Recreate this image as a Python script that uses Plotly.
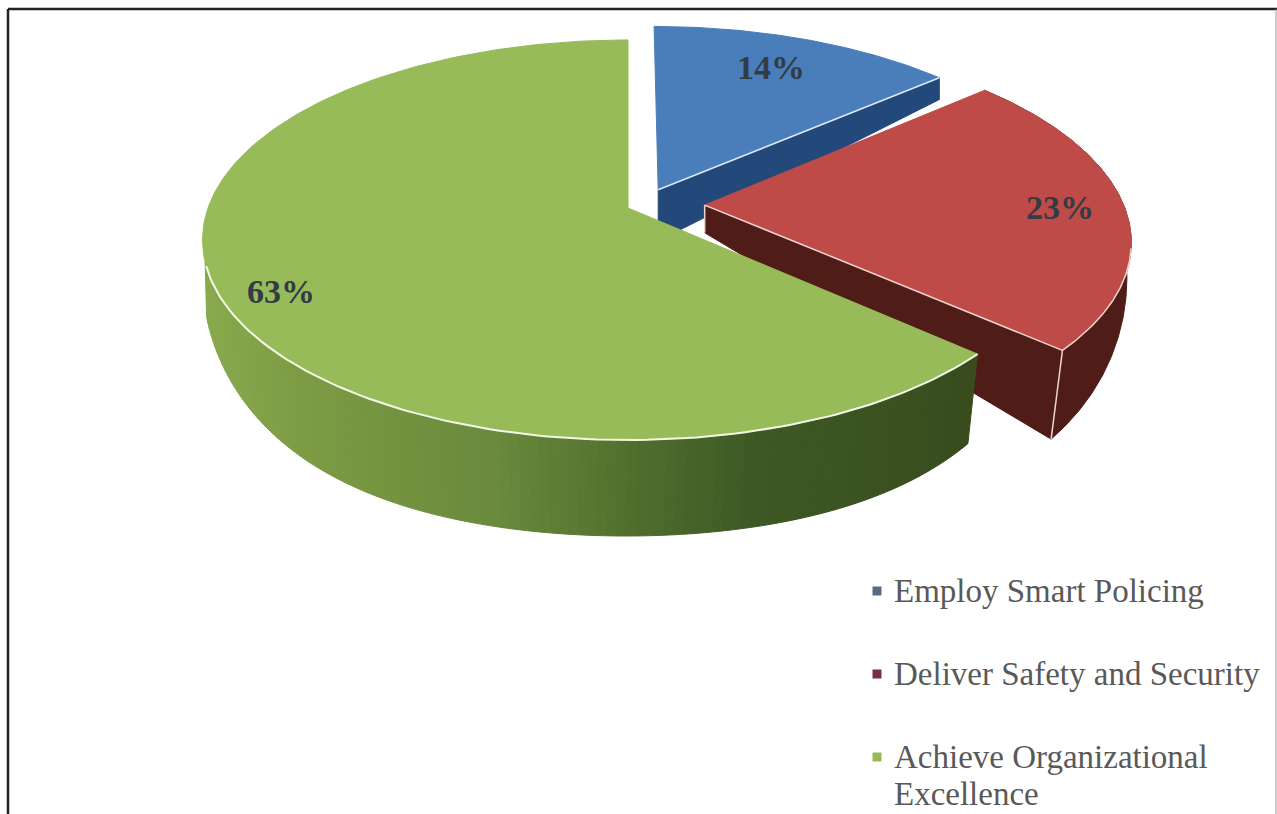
import numpy as np
import plotly.graph_objects as go

# ---- data ----
categories = ["Employ Smart Policing", "Deliver Safety and Security", "Achieve Organizational<br>Excellence"]
shares = [14, 23, 63]

# ---- style / geometry ----
top_colors = ["#4a7ebb", "#be4b48", "#98bb59"]
wall_colors = ["#23497a", "#4f1c17", "#3a4f1e"]
legend_marks = ["#5b6a80", "#7a2f45", "#98bb59"]
edge_colors = ["#dfe8f3", "#ecd5d0", "#f4f8e8"]
explode = [(0.073, -0.095), (0.183, -0.015), (0.0, 0.0)]
apex_drop = [30, 0, 0]
label_xy = [(771, 67), (1060, 207), (281, 291)]
legend_y = [591, 674, 757]
LINE_STEP = 37
CX, RX = 628, 420
VIEW_TURN = 1.2   # the drawing's slight rotation of the inner boundaries
FONT = "Liberation Serif"


def top(X, Y):
    return CX + RX * X / (1 - 0.16 * Y), 208 + 194.9 * Y / (1 - 0.16 * Y)


def bottom(X, Y):
    return CX - 2 + RX * X / (1 - 0.13 * Y), 237 + 283.7 * Y + 83.0 * Y ** 2 - 67.7 * Y ** 3


def rim(a0, a1, off, n):
    t = np.radians(np.linspace(a0, a1, n))
    return np.sin(t) + off[0], -np.cos(t) + off[1]


def side_color(x):
    xs = [205, 300, 500, 640, 760, 900, 975]
    rgb = np.array([[138, 170, 78], [126, 156, 68], [106, 138, 61], [79, 111, 46],
                    [62, 89, 37], [59, 82, 32], [56, 76, 30]])
    return "rgb(%d,%d,%d)" % tuple(int(np.interp(x, xs, rgb[:, i])) for i in range(3))


fig = go.Figure()


def poly(xs, ys, color, line=None):
    fig.add_trace(go.Scatter(x=list(xs), y=list(ys), mode="lines", fill="toself", fillcolor=color,
                             line=dict(color=line or color, width=1), hoverinfo="skip"))


def edge(xs, ys, color, w=1.5):
    fig.add_trace(go.Scatter(x=list(xs), y=list(ys), mode="lines",
                             line=dict(color=color, width=w), hoverinfo="skip"))


edges = np.concatenate([[0], np.cumsum(shares) * 3.6])
edges[1:-1] -= VIEW_TURN
for i in range(len(shares)):
    a0, a1 = edges[i], edges[i + 1]
    off = explode[i]
    ax, ay = off
    X, Y = rim(a0, a1, off, 200)
    tx, ty = top(X, Y)
    bx, by = bottom(X, Y)
    # outer side
    if i == 2:
        front = np.where(Y > 0.25)[0]
        fx, lx = front[0], front[-1]
        for j in range(fx, lx):
            k = j + 1
            poly([tx[j], tx[k], bx[k], bx[j], tx[j]], [ty[j], ty[k], by[k], by[j], ty[j]],
                 side_color(tx[j]))
    elif i == 1:
        poly(list(tx) + list(bx[::-1]) + [tx[0]], list(ty) + list(by[::-1]) + [ty[0]], wall_colors[i])
    # cut wall on the clockwise end of the slice
    tax, tay = top(ax, ay)
    bax, bay = bottom(ax, ay)
    bay += apex_drop[i]
    if i < 2:
        corner_x = tx[-1] if i == 0 else bx[-1]
        poly([tax, tx[-1], corner_x, tax, tax], [tay, ty[-1], by[-1], bay, tay], wall_colors[i])
    # top face
    poly([tax] + list(tx) + [tax], [tay] + list(ty) + [tay], top_colors[i])
    # highlights
    if i == 0:
        edge([tax, tx[-1]], [tay, ty[-1]], edge_colors[i])
    if i == 1:
        edge([tax, tx[-1]], [tay, ty[-1]], edge_colors[i])
        edge([tx[-1], bx[-1]], [ty[-1], by[-1]], edge_colors[i])
        edge([tax, tax], [tay, bay], edge_colors[i])
        s = Y > 0.2
        edge(tx[s], ty[s], edge_colors[i])
    if i == 2:
        s = Y > 0.28
        edge(tx[s], ty[s], edge_colors[i], 2)

# percentage labels
annotations = []
for v, (lx, ly) in zip(shares, label_xy):
    annotations.append(dict(x=lx, y=ly, text=f"<b>{v}%</b>", showarrow=False, xanchor="center", yanchor="middle",
                            font=dict(family=FONT, size=34, color="#333c45")))
# legend
fig.add_trace(go.Scatter(x=[877] * 3, y=legend_y, mode="markers", hoverinfo="skip",
                         marker=dict(symbol="square", size=9, color=legend_marks)))
for c, ly in zip(categories, legend_y):
    for n, part in enumerate(c.split("<br>")):
        annotations.append(dict(x=892, y=ly + n * LINE_STEP, text=part, showarrow=False, xanchor="left",
                                yanchor="middle", align="left", font=dict(family=FONT, size=33, color="#595959")))

border = [(8, 9, 1277, 9, "#222222", 2.5), (8, 9, 8, 814, "#222222", 2.5), (1276, 9, 1276, 814, "#999999", 1)]
shapes = [dict(type="line", xref="x", yref="y", x0=a, y0=b, x1=c, y1=d, line=dict(color=col, width=w))
          for a, b, c, d, col, w in border]

fig.update_layout(
    width=1277, height=814, margin=dict(l=0, r=0, t=0, b=0), showlegend=False,
    paper_bgcolor="white", plot_bgcolor="white", annotations=annotations, shapes=shapes,
    xaxis=dict(range=[0, 1277], visible=False, fixedrange=True),
    yaxis=dict(range=[814, 0], visible=False, fixedrange=True),
)
fig.write_html("out.html", config=dict(displayModeBar=False),
               post_script="document.body.style.margin='0';document.body.style.overflow='hidden';")
